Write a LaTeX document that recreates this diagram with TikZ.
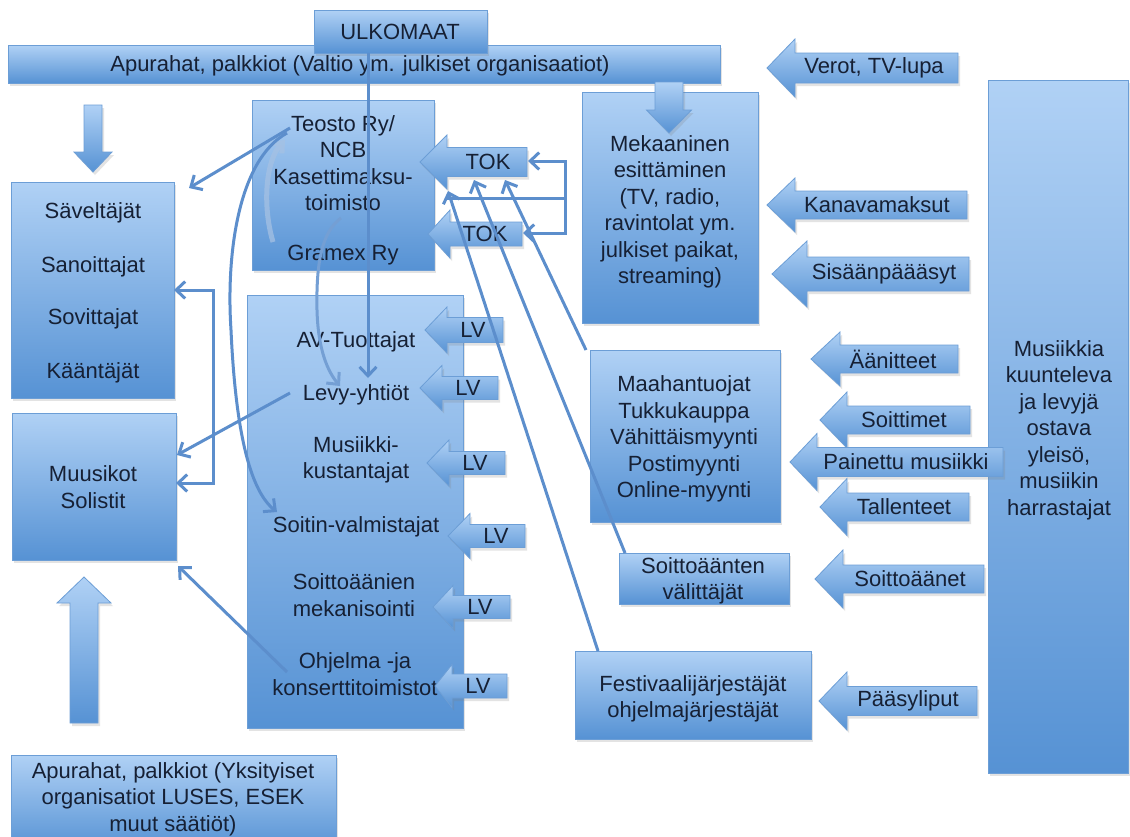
\documentclass[tikz,border=0pt]{standalone}
\usepackage{fontspec}
\setmainfont{Liberation Sans}
\usetikzlibrary{arrows.meta,shadows}
\definecolor{btop}{RGB}{176,209,245}
\definecolor{bbot}{RGB}{86,146,212}
\definecolor{bord}{RGB}{108,158,214}
\definecolor{txtc}{RGB}{22,32,52}
\definecolor{linec}{RGB}{92,142,204}
\newcommand\fs{\fontsize{22}{26.5}\selectfont}
\tikzset{
  box/.style={draw=bord, line width=0.8pt, top color=btop, bottom color=bbot,
    drop shadow={opacity=0.22, shadow xshift=2pt, shadow yshift=-3pt}},
  lbl/.style={inner sep=0pt, align=center, font=\fs, text=txtc},
  conn/.style={draw=linec, line width=3pt},
  tip/.style={-{Straight Barb[length=9pt,width=17pt]}},
  soft/.style={draw=white!45!linec, line width=5pt, opacity=0.75}
}
% box: name, x1, y1, x2, y2
\newcommand\boxat[5]{\node[box, inner sep=0pt, outer sep=0pt,
  minimum width={#4-#2}, minimum height={#5-#3}] (#1) at ({(#2+#4)/2},{(#3+#5)/2}) {};}
% left block arrow: name, tip x, y, head base x, right x, body half, head half, text x, text
\newcommand\larr[9]{%
  \path[box] ({#2},{#3}) -- ({#4},{#3-#7}) -- ({#4},{#3-#6}) -- ({#5},{#3-#6})
    -- ({#5},{#3+#6}) -- ({#4},{#3+#6}) -- ({#4},{#3+#7}) -- cycle;
  \node[lbl] (#1) at ({#8},{#3}) {#9};}
% vertical block arrow: name, x, tail y, head base y, tip y, shaft half, head half
\newcommand\varr[7]{%
  \path[box] ({#2-#6},{#3}) -- ({#2+#6},{#3}) -- ({#2+#6},{#4}) -- ({#2+#7},{#4})
    -- ({#2},{#5}) -- ({#2-#7},{#4}) -- ({#2-#6},{#4}) -- cycle;
  \coordinate (#1) at ({#2},{#5});}
\begin{document}
\begin{tikzpicture}[x=1pt,y=-1pt]
\useasboundingbox (0,0) rectangle (1130,836);
\fill[white] (0,0) rectangle (1130,836);

% ---------- boxes ----------
\boxat{topbar}{8}{45}{720}{83}
\boxat{ulko}{314}{10}{487}{53}
\boxat{sav}{11}{182}{174}{398}
\boxat{mus}{12}{413}{176}{560}
\boxat{bot}{11}{755}{336}{850}
\boxat{teo}{252}{100}{434}{270}
\boxat{av}{247}{295}{463}{728}
\boxat{mek}{582}{92}{758}{323}
\boxat{maa}{590}{350}{780}{522}
\boxat{soi}{619}{553}{789}{604}
\boxat{fes}{575}{651}{811}{739}
\boxat{yle}{988}{80}{1128}{773}

% ---------- box texts ----------
\node[lbl] (tbar) at (360,66) {Apurahat, palkkiot (Valtio ym. julkiset organisaatiot)};
\node[lbl] (tulko) at (400,32) {ULKOMAAT};
\node[lbl] (ts1) at (93,213) {Säveltäjät};
\node[lbl] (ts2) at (93,267) {Sanoittajat};
\node[lbl] (ts3) at (93,319) {Sovittajat};
\node[lbl] (ts4) at (93,373) {Kääntäjät};
\node[lbl] (tmus) at (93,487) {Muusikot\\Solistit};
\node[lbl] (tbot) at (173,799) {Apurahat, palkkiot (Yksityiset\\organisatiot LUSES, ESEK\\muut säätiöt)};
\node[lbl] (tteo) at (343,163) {Teosto Ry/\\NCB\\Kasettimaksu-\\toimisto};
\node[lbl] (tgram) at (343,255) {Gramex Ry};
\node[lbl] (tav) at (356,342) {AV-Tuottajat};
\node[lbl] (tlevy) at (356,395) {Levy-yhtiöt};
\node[lbl] (tkust) at (356,460) {Musiikki-\\kustantajat};
\node[lbl] (tsoit) at (356,527) {Soitin-valmistajat};
\node[lbl] (tmeka) at (354,595) {Soittoäänien\\mekanisointi};
\node[lbl] (tohj) at (355,674) {Ohjelma -ja\\konserttitoimistot};
\node[lbl] (tmek) at (670,212) {Mekaaninen\\esittäminen\\(TV, radio,\\ravintolat ym.\\julkiset paikat,\\streaming)};
\node[lbl] (tmaa) at (684,439) {Maahantuojat\\Tukkukauppa\\Vähittäismyynti\\Postimyynti\\Online-myynti};
\node[lbl] (tsoi) at (703,581) {Soittoäänten\\välittäjät};
\node[lbl] (tfes) at (693,699) {Festivaalijärjestäjät\\ohjelmajärjestäjät};
\node[lbl] (tyle) at (1059,430) {Musiikkia\\kuunteleva\\ja levyjä\\ostava\\yleisö,\\musiikin\\harrastajat};

% ---------- block arrows ----------
\varr{dl}{93}{105}{152}{172}{9}{19}
\varr{dm}{669}{82}{110}{133}{14}{22.5}
\varr{ul}{84}{723}{603}{577}{14}{27}

\larr{verot}{767}{68}{795}{958}{15}{29}{874}{Verot, TV-lupa}
\larr{kana}{767}{205}{795}{967}{14}{27}{877}{Kanavamaksut}
\larr{sisa}{772}{274}{807}{969}{17}{33}{884}{Sisäänpäääsyt}
\larr{aani}{811}{359}{840}{958}{14}{27}{893}{Äänitteet}
\larr{soitt}{820}{420}{847}{970}{14}{28}{904}{Soittimet}
\larr{pain}{790}{462}{817}{1003}{14.5}{28.5}{906}{Painettu musiikki}
\larr{tall}{820}{507}{847}{969}{14}{28.5}{904}{Tallenteet}
\larr{soa}{815}{579}{843}{984}{14}{29}{910}{Soittoäänet}
\larr{paas}{819}{701}{847}{977}{14.5}{29}{908}{Pääsyliput}

\larr{tok1}{420}{162}{447}{527}{14.5}{27}{488}{TOK}
\larr{tok2}{428}{234}{450}{522}{12}{24}{485}{TOK}
\larr{lv1}{425}{330}{447}{503}{12.5}{23}{473}{LV}
\larr{lv2}{420}{388}{442}{498}{11.5}{22.5}{468}{LV}
\larr{lv3}{427}{463}{449}{505}{11.5}{23}{475}{LV}
\larr{lv4}{448}{536}{470}{525}{11.5}{22.5}{496}{LV}
\larr{lv5}{433}{607}{453}{510}{11.5}{21.5}{480}{LV}
\larr{lv6}{435}{686}{452}{507}{12}{21.5}{478}{LV}

% ---------- connector end points ----------
\coordinate (uS) at (368,53);
\coordinate (levyT) at (368,378);
\coordinate (teoA) at (290,128);
\coordinate (savA) at (189,188);
\coordinate (teoB) at (287,133);
\coordinate (soitA) at (277,512);
\coordinate (gramA) at (273,242);
\coordinate (teoC) at (285,140);
\coordinate (toimA) at (341,218);
\coordinate (levyA) at (340,386);
\coordinate (levyB) at (290,393);
\coordinate (musA) at (177,455);
\coordinate (ohjA) at (287,672);
\coordinate (musB) at (178,566);
\coordinate (brA) at (174,290);
\coordinate (brB) at (213,290);
\coordinate (brC) at (213,483);
\coordinate (brD) at (176,483);
\coordinate (tk1) at (528,161);
\coordinate (tkA) at (565,161);
\coordinate (tkB) at (565,233);
\coordinate (tk2) at (523,233);
\coordinate (tkM) at (565,198);
\coordinate (tkL) at (447,198);
\coordinate (maaA) at (586,350);
\coordinate (tokA) at (505,180);
\coordinate (soiA) at (625,553);
\coordinate (tokB) at (474,180);
\coordinate (fesA) at (598,651);
\coordinate (tokC) at (448,191);

% ---------- connectors ----------
\draw[soft, -{Straight Barb[length=8pt,width=14pt]}] (gramA) .. controls (262,205) and (266,160) .. (teoC);
\draw[conn, tip] (uS) -- (levyT);
\draw[conn, tip] (teoA) -- (savA);
\draw[conn, tip] (teoB) .. controls (238,160) and (226,255) .. (231,330)
   .. controls (236,440) and (252,492) .. (soitA);
\draw[conn, tip, draw=white!15!linec] (toimA) .. controls (322,232) and (316,262) .. (317,310)
   .. controls (318,350) and (328,372) .. (levyA);
\draw[conn, tip] (levyB) -- (musA);
\draw[conn, tip] (ohjA) -- (musB);
\draw[conn, {Straight Barb[length=9pt,width=17pt]}-{Straight Barb[length=9pt,width=17pt]}]
   (brA) -- (brB) -- (brC) -- (brD);
\draw[conn, {Straight Barb[length=9pt,width=17pt]}-{Straight Barb[length=9pt,width=17pt]}]
   (tk1) -- (tkA) -- (tkB) -- (tk2);
\draw[conn] (tkM) -- (tkL);
\draw[conn, tip] (maaA) -- (tokA);
\draw[conn, tip] (soiA) -- (tokB);
\draw[conn, tip] (fesA) -- (tokC);
\end{tikzpicture}
\end{document}
